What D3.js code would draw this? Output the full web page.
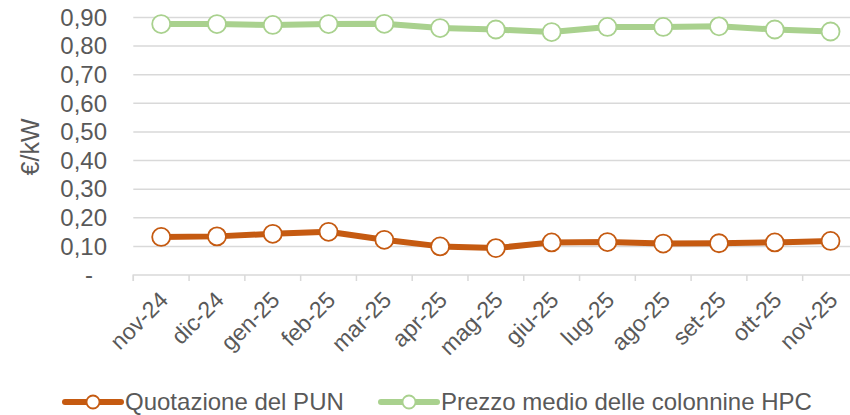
<!DOCTYPE html>
<html>
<head>
<meta charset="utf-8">
<script src="https://cdn.jsdelivr.net/npm/d3@7"></script>
<style>
  body { margin: 0; background: #fff; }
  text { font-family: "Liberation Sans", Arial, sans-serif; fill: #595959; }
</style>
</head>
<body>
<div class="chart"></div>
<script>
const months = ["nov-24","dic-24","gen-25","feb-25","mar-25","apr-25","mag-25","giu-25","lug-25","ago-25","set-25","ott-25","nov-25"]
const pun = [0.133,0.135,0.144,0.151,0.123,0.100,0.094,0.114,0.115,0.110,0.111,0.114,0.119]
const hpc = [0.877,0.877,0.874,0.877,0.878,0.863,0.858,0.849,0.867,0.867,0.869,0.858,0.851]
const yTicks = [0,0.1,0.2,0.3,0.4,0.5,0.6,0.7,0.8,0.9]
const seriesNames = ["Quotazione del PUN","Prezzo medio delle colonnine HPC"]
const seriesColors = ["#C55A11","#A9D18E"]

class LineChart {
  constructor(width,height) {
    this.width = width
    this.height = height
    this.svg = d3.select(".chart").append("svg")
      .attr("width",width).attr("height",height)
    this.series = [pun,hpc]

    this.createScale()
    this.createAxes()
    this.draw()
    this.createLegend()
  }

  createScale() {
    // band for each month, last one runs past the right edge like the original
    this.scaleX = d3.scaleBand().domain(months).range([133.3,133.3+13*55.78])
    this.scaleY = d3.scaleLinear().domain([0,0.9]).range([275,17.5])
  }

  createAxes() {
    var that = this
    var fmt = d3.format(".2f")

    var grid = this.svg.append("g")
    grid.selectAll("line").data(yTicks.filter(d => d > 0)).enter().append("line")
      .attr("x1",133.3).attr("x2",this.width)
      .attr("y1",d => that.scaleY(d)).attr("y2",d => that.scaleY(d))
      .attr("stroke","#d9d9d9").attr("stroke-width",1.5)

    var axisY = this.svg.append("g").attr("transform","translate(107,0)")
    axisY.call(d3.axisLeft(this.scaleY).tickValues(yTicks).tickSize(0).tickPadding(0)
      .tickFormat(d => d === 0 ? "-" : fmt(d).replace(".",",")))
    axisY.select(".domain").remove()
    axisY.selectAll("text").attr("font-size",24).attr("fill","#595959")
      .style("font-family","'Liberation Sans', Arial, sans-serif")
      .attr("x",d => d === 0 ? -14 : 0)

    var axisX = this.svg.append("g").attr("transform","translate(0,275)")
    axisX.call(d3.axisBottom(this.scaleX).tickSize(6).tickFormat(""))
    axisX.select(".domain").attr("stroke","#d9d9d9").attr("stroke-width",1.5)
      .attr("d","M133.3,6V0H" + this.width)
    axisX.selectAll(".tick line").attr("stroke","#d9d9d9").attr("stroke-width",1.5)
      .attr("transform","translate(" + (-this.scaleX.bandwidth()/2) + ",0)")

    this.svg.append("g").selectAll("text").data(months).enter().append("text")
      .attr("transform",d => "translate(" + (that.scaleX(d) + that.scaleX.bandwidth()/2 - 3) + ",290) rotate(-45)")
      .attr("text-anchor","end").attr("dy","0.7em")
      .attr("font-size",23)
      .text(d => d)

    this.svg.append("text")
      .attr("transform","translate(30,147) rotate(-90)")
      .attr("text-anchor","middle").attr("dy","0.35em")
      .attr("font-size",25)
      .text("€/kW")
  }

  draw() {
    var that = this
    var cx = d => that.scaleX(d) + that.scaleX.bandwidth()/2
    var line = d3.line().x((d,i) => cx(months[i])).y(d => that.scaleY(d))

    this.series.forEach(function(values,k) {
      var g = that.svg.append("g")
      g.append("path").datum(values)
        .attr("d",line).attr("fill","none")
        .attr("stroke",seriesColors[k]).attr("stroke-width",6)
        .attr("stroke-linejoin","round")
      g.selectAll("circle").data(values).enter().append("circle")
        .attr("cx",(d,i) => cx(months[i]))
        .attr("cy",d => that.scaleY(d))
        .attr("r",9)
        .attr("fill","#fff")
        .attr("stroke",seriesColors[k]).attr("stroke-width",1.8)
    })
  }

  createLegend() {
    var legendX = [65,381]
    var that = this
    seriesNames.forEach(function(name,k) {
      var g = that.svg.append("g").attr("transform","translate(" + legendX[k] + ",402)")
      g.append("line").attr("x1",0).attr("x2",56).attr("y1",0).attr("y2",0)
        .attr("stroke",seriesColors[k]).attr("stroke-width",6).attr("stroke-linecap","round")
      g.append("circle").attr("cx",28).attr("cy",0).attr("r",6.5)
        .attr("fill","#fff").attr("stroke",seriesColors[k]).attr("stroke-width",1.8)
      g.append("text").attr("x",60).attr("y",0).attr("dy","0.35em")
        .attr("font-size",24)
        .text(name)
    })
  }
}

new LineChart(850,415)
</script>
</body>
</html>
